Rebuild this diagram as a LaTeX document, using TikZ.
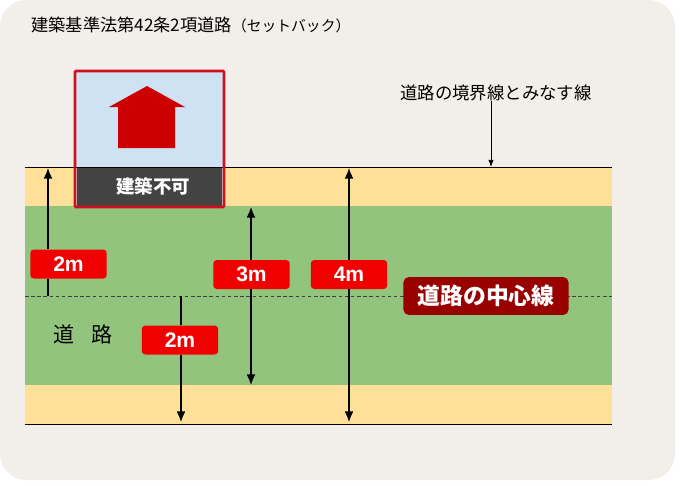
\documentclass[tikz,border=0pt]{standalone}
\usepackage{fontspec}
\setmainfont{Liberation Sans}
\newfontfamily\cjk{Noto Sans CJK JP}
\usetikzlibrary{arrows.meta}
\definecolor{bgcol}{HTML}{F2EEE9}
\definecolor{roadcol}{HTML}{93C47D}
\definecolor{sidecol}{HTML}{FFE099}
\definecolor{skycol}{HTML}{CFE2F3}
\definecolor{bandcol}{HTML}{434343}
\definecolor{redcol}{HTML}{F00000}
\definecolor{framecol}{HTML}{D0101C}
\definecolor{centercol}{HTML}{980000}
\tikzset{
    lenbox/.style={fill=redcol, rounded corners=2pt, minimum width=43.5pt, minimum height=16.5pt, inner sep=0pt, text=white, font=\fontsize{12}{12}\selectfont\bfseries},
    dimarrow/.style={-{Latex[length=6pt,width=5pt]}, line width=0.75pt},
}
\begin{document}
\begin{tikzpicture}[x=0.02cm, y=-0.02cm]
    \useasboundingbox (0,0) rectangle (680,485);
    % ---- background ----
    \fill[white] (0,0) rectangle (680,485);
    \fill[bgcol, rounded corners=15pt] (0,0) rectangle (675,480);
    \node[anchor=west, inner sep=0pt, font=\cjk\fontsize{9.8}{10}\selectfont] (title) at (31,25) {建築基準法第42条2項道路{\fontsize{8.4}{10}\selectfont （セットバック）}};
    % ---- road ----
    \fill[sidecol] (25,167) rectangle (612,424);
    \fill[roadcol] (25,206) rectangle (612,385);
    \coordinate (topL) at (25,167);
    \coordinate (topR) at (612,167);
    \coordinate (botL) at (25,424);
    \coordinate (botR) at (612,424);
    \coordinate (midL) at (25,296);
    \coordinate (midR) at (612,296);
    % ---- house ----
    \fill[skycol] (75,71) rectangle (224,207);
    \fill[bandcol] (77,167) rectangle (222,206);
    \draw (topL) -- (topR);
    \draw (botL) -- (botR);
    \draw[framecol, line width=1.5pt, rounded corners=0.5pt] (75,71) rectangle (224,207);
    \fill[red!80!black] (147,86) -- (185,107) -- (175,107) -- (175,148) -- (118,148) -- (118,107) -- (109,107) -- cycle;
    \node[font=\cjk\fontsize{10.5}{11}\selectfont\bfseries, text=white, inner sep=0pt] (nobuild) at (153,186) {建築不可};
    % ---- center line ----
    \draw[black!75, line width=0.4pt, dash pattern=on 2pt off 1.5pt] (midL) -- (midR);
    \node[fill=centercol, rounded corners=3pt, minimum width=94pt, minimum height=21.5pt, inner sep=0pt, text=white, font=\cjk\fontsize{13}{14}\selectfont\bfseries] (center) at (486,296) {道路の中心線};
    % ---- labels ----
    \node[inner sep=0pt, font=\cjk\fontsize{12}{13}\selectfont] (road) at (83,334) {道\hspace{0.8em}路};
    \node[inner sep=0pt, font=\cjk\fontsize{9.9}{11}\selectfont] (bound) at (496,93) {道路の境界線とみなす線};
    \coordinate (boundEnd) at (491,167);
    \draw[-{Latex[length=4pt,width=3pt]}, line width=0.4pt] (bound.south -| boundEnd) -- (boundEnd);
    % ---- dimensions ----
    \node[lenbox] (a) at (68.5,264) {2m};
    \node[lenbox] (b) at (180,340) {2m};
    \node[lenbox] (c) at (251.5,274.5) {3m};
    \node[lenbox] (d) at (349,274.5) {4m};
    \coordinate (aTop) at (48,168);
    \coordinate (aBot) at (48,296);
    \coordinate (bTop) at (181,296);
    \coordinate (bBot) at (181,422);
    \coordinate (cTop) at (251,207);
    \coordinate (cBot) at (251,385);
    \coordinate (dTop) at (349,168);
    \coordinate (dBot) at (349,422);
    \draw[dimarrow] (a.north -| aTop) -- (aTop);
    \draw[line width=0.75pt] (a.south -| aBot) -- (aBot);
    \draw[line width=0.75pt] (bTop) -- (b.north -| bTop);
    \draw[dimarrow] (b.south -| bBot) -- (bBot);
    \draw[dimarrow] (c.north -| cTop) -- (cTop);
    \draw[dimarrow] (c.south -| cBot) -- (cBot);
    \draw[dimarrow] (d.north) -- (dTop);
    \draw[dimarrow] (d.south) -- (dBot);
\end{tikzpicture}
\end{document}
